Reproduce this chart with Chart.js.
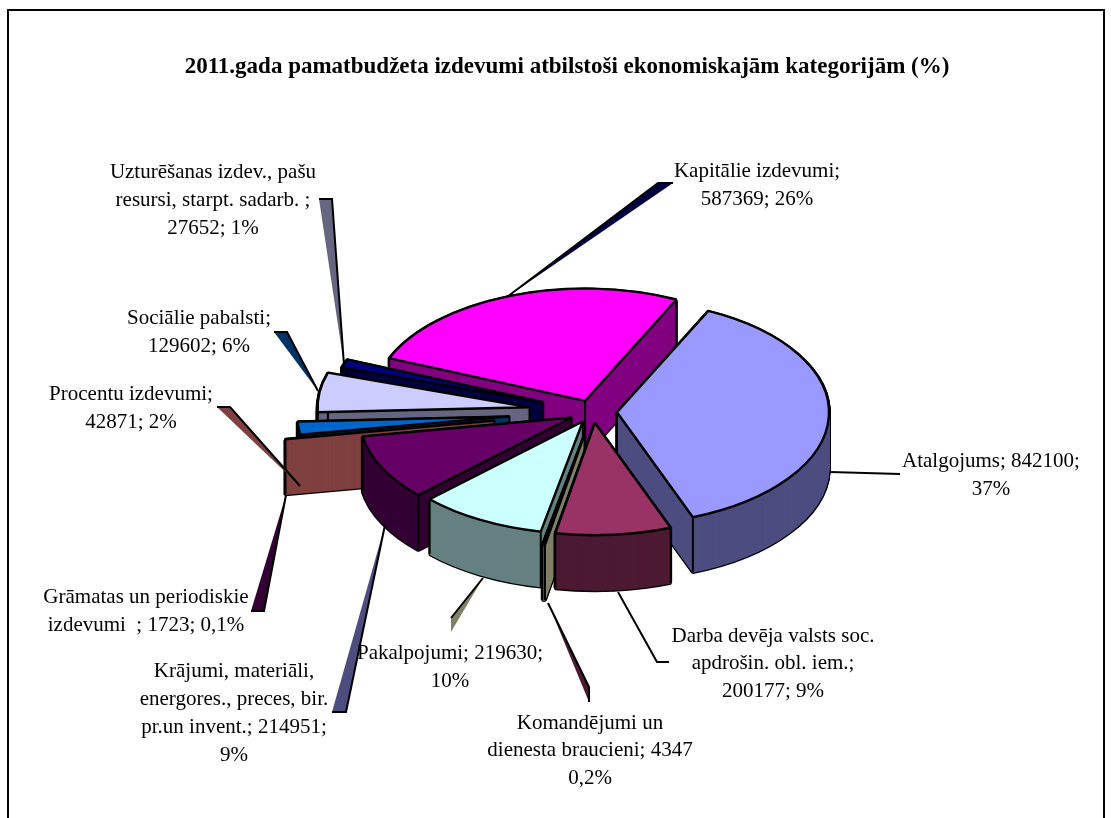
<!DOCTYPE html>
<html>
<head>
<meta charset="utf-8">
<script src="https://cdn.jsdelivr.net/npm/chart.js@4"></script>
<style>
html, body { margin: 0; padding: 0; background: #fff; overflow: hidden; }
#frame { position: absolute; left: 7px; top: 9px; width: 1094px; height: 900px; border: 2px solid #000; }
#grafika { position: absolute; left: 0; top: 0; }
</style>
</head>
<body>
<div id="frame"></div>
<canvas id="grafika" width="1111" height="818"></canvas>
<script>
var categories = ["Atalgojums", "Darba devēja valsts soc. apdrošin. obl. iem.", "Komandējumi un dienesta braucieni", "Pakalpojumi",
    "Krājumi, materiāli, energores., preces, bir. pr.un invent.", "Grāmatas un periodiskie izdevumi", "Procentu izdevumi",
    "Sociālie pabalsti", "Uzturēšanas izdev., pašu resursi, starpt. sadarb.", "Kapitālie izdevumi"];
var values = [842100, 200177, 4347, 219630, 214951, 1723, 42871, 129602, 27652, 587369];
var topColors = ["#9999FF", "#993366", "#FFFFCC", "#CCFFFF", "#660066", "#FF8080", "#0066CC", "#CCCCFF", "#000080", "#FF00FF"];
var sideColors = ["#4D4D80", "#4D1A33", "#808066", "#668080", "#330033", "#804040", "#003366", "#666680", "#000040", "#800080"];
var explode = [24, 21, 44, 21, 24, 100, 84, 64, 53, 22];
var drawOrder = [9, 8, 7, 6, 5, 4, 0, 3, 2, 1];

var chartTitle = "2011.gada pamatbudžeta izdevumi atbilstoši ekonomiskajām kategorijām (%)";

// teksts, centrs x, bazes linija y
var labelLines = [
    ["Kapitālie izdevumi;", 757, 177], ["587369; 26%", 757, 205],
    ["Atalgojums; 842100;", 991, 467], ["37%", 991, 495],
    ["Darba devēja valsts soc.", 773, 642], ["apdrošin. obl. iem.;", 773, 669], ["200177; 9%", 773, 697],
    ["Komandējumi un", 590, 729], ["dienesta braucieni; 4347", 590, 756], ["0,2%", 590, 784],
    ["Pakalpojumi; 219630;", 450, 659], ["10%", 450, 687],
    ["Krājumi, materiāli,", 234, 677], ["energores., preces, bir.", 234, 705], ["pr.un invent.; 214951;", 234, 733], ["9%", 234, 761],
    ["Grāmatas un periodiskie", 146, 603], ["izdevumi  ; 1723; 0,1%", 146, 631],
    ["Procentu izdevumi;", 131, 400], ["42871; 2%", 131, 428],
    ["Sociālie pabalsti;", 199, 324], ["129602; 6%", 199, 352],
    ["Uzturēšanas izdev., pašu", 213, 178], ["resursi, starpt. sadarb. ;", 213, 206], ["27652; 1%", 213, 234]
];

// vadlinijas: punkti, aizpildijums, melna mala
var leaders = [
    { pts: [[507, 297], [658, 183], [673, 183]], fill: "#000040", edge: [[507, 297], [658, 183], [673, 183]] },
    { pts: [[344, 365], [319, 199], [332, 199]], fill: "#666680", edge: [[344, 365], [332, 199], [319, 199]] },
    { pts: [[318, 391], [274, 332], [287, 332]], fill: "#003366", edge: [[318, 391], [287, 332], [274, 332]] },
    { pts: [[300, 486], [217, 407], [230, 407]], fill: "#804040", edge: [[300, 486], [230, 407], [217, 407]] },
    { pts: [[286, 495], [251, 611], [264, 611]], fill: "#330033", edge: [[286, 495], [264, 611], [251, 611]] },
    { pts: [[385, 525], [332, 712], [346, 712]], fill: "#4D4D80", edge: [[385, 525], [346, 712], [332, 712]] },
    { pts: [[483, 578], [451, 618], [451, 632]], fill: "#808066", edge: [[483, 578], [451, 618]] },
    { pts: [[548, 603], [589, 687], [589, 702]], fill: "#4D1A33", edge: [[548, 603], [589, 687], [589, 702]] },
    { pts: [], fill: null, edge: [[618, 592], [657, 662], [669, 662]] },
    { pts: [], fill: null, edge: [[830, 472], [900, 474]] }
];

var tilt = 0.53;
var depth = 55;

function drawSlice(chart, arc, i, dy, style) {
    var ctx = chart.ctx;
    var mid = (arc.startAngle + arc.endAngle) / 2;
    ctx.save();
    ctx.translate(arc.x, arc.y + dy);
    ctx.scale(1, tilt);
    ctx.translate(-arc.x, -arc.y);
    ctx.translate(Math.cos(mid) * explode[i], Math.sin(mid) * explode[i]);
    var copy = Object.create(arc);
    copy.options = Object.assign({}, arc.options, { offset: 0 }, style);
    copy.draw(ctx);
    ctx.restore();
}

function drawEdges(chart, arc, i) {
    var ctx = chart.ctx;
    var mid = (arc.startAngle + arc.endAngle) / 2;
    var ax = arc.x + Math.cos(mid) * explode[i];
    var ay = arc.y + Math.sin(mid) * explode[i] * tilt;
    var points = [[ax, ay]];
    [arc.startAngle, arc.endAngle].forEach(function (a) {
        points.push([ax + Math.cos(a) * arc.outerRadius, ay + Math.sin(a) * arc.outerRadius * tilt]);
    });
    ctx.strokeStyle = "#000";
    ctx.lineWidth = 2;
    points.forEach(function (p) {
        ctx.beginPath();
        ctx.moveTo(p[0], p[1]);
        ctx.lineTo(p[0], p[1] + depth);
        ctx.stroke();
    });
}

var pie3d = {
    id: "pie3d",
    afterLayout: function (chart) {
        // virsraksts nav centrets pret diagrammu
        chart.titleBlock.left = 0;
        chart.titleBlock.right = 1134;
    },
    beforeDatasetsDraw: function (chart) {
        var ctx = chart.ctx;
        var arcs = chart.getDatasetMeta(0).data;
        var base = ctx.getTransform();
        // linijas biezums nedrikst sasplesties kopa ar elipsi
        ctx.stroke = function () {
            var m = ctx.getTransform();
            ctx.setTransform(base);
            CanvasRenderingContext2D.prototype.stroke.call(ctx);
            ctx.setTransform(m);
        };
        drawOrder.forEach(function (i) {
            var dy;
            for (dy = depth; dy > 0; dy--) {
                drawSlice(chart, arcs[i], i, dy, { borderWidth: 3.8, borderColor: "#000", backgroundColor: "#000" });
            }
            for (dy = depth; dy > 0; dy--) {
                drawSlice(chart, arcs[i], i, dy, { borderWidth: 1.2, borderColor: sideColors[i], backgroundColor: sideColors[i] });
            }
            drawEdges(chart, arcs[i], i);
            drawSlice(chart, arcs[i], i, 0, { borderWidth: 2.4, borderColor: "#000", backgroundColor: topColors[i] });
        });
        delete ctx.stroke;
        return false;
    },
    afterDraw: function (chart) {
        var ctx = chart.ctx;
        ctx.save();
        leaders.forEach(function (l) {
            if (l.fill) {
                ctx.beginPath();
                l.pts.forEach(function (p, n) { n ? ctx.lineTo(p[0], p[1]) : ctx.moveTo(p[0], p[1]); });
                ctx.closePath();
                ctx.fillStyle = l.fill;
                ctx.fill();
            }
            ctx.beginPath();
            l.edge.forEach(function (p, n) { n ? ctx.lineTo(p[0], p[1]) : ctx.moveTo(p[0], p[1]); });
            ctx.strokeStyle = "#000";
            ctx.lineWidth = 2;
            ctx.stroke();
        });
        ctx.fillStyle = "#000";
        ctx.font = "21px 'Liberation Serif'";
        ctx.textAlign = "center";
        ctx.textBaseline = "alphabetic";
        labelLines.forEach(function (l) {
            ctx.fillText(l[0], l[1], l[2]);
        });
        ctx.restore();
    }
};

new Chart(document.getElementById("grafika").getContext("2d"), {
    type: "pie",
    plugins: [pie3d],
    data: {
        labels: categories,
        datasets: [{
            data: values,
            backgroundColor: topColors,
            borderColor: "#000",
            borderWidth: 2
        }]
    },
    options: {
        responsive: false,
        animation: false,
        rotation: 25.5,
        radius: 212,
        events: [],
        layout: { padding: { left: 75, right: 0, top: 0, bottom: 77 } },
        plugins: {
            legend: { display: false },
            tooltip: { enabled: false },
            title: {
                display: true,
                text: chartTitle,
                color: "#000",
                font: { family: "'Liberation Serif'", size: 23, weight: "bold" },
                padding: { top: 53, bottom: 2 }
            }
        }
    }
});
</script>
</body>
</html>
